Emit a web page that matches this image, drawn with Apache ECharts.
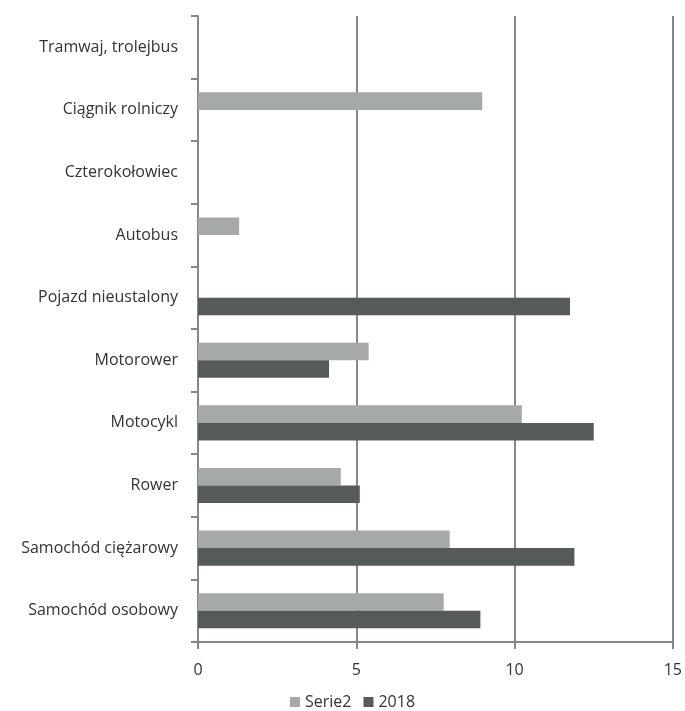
<!DOCTYPE html>
<html>
<head>
<meta charset="utf-8">
<script src="https://cdn.jsdelivr.net/npm/echarts@6/dist/echarts.min.js"></script>
<style>
  html, body { margin: 0; padding: 0; background: #fff; }
  #chart { width: 685px; height: 711px; }
</style>
</head>
<body>
<div id="chart"></div>
<script>
// kategorie od dołu do góry
var categories = ['Samochód osobowy', 'Samochód ciężarowy', 'Rower', 'Motocykl', 'Motorower',
                  'Pojazd nieustalony', 'Autobus', 'Czterokołowiec', 'Ciągnik rolniczy', 'Tramwaj, trolejbus'];
var serie2Values = [7.76, 7.95, 4.51, 10.23, 5.39, 0, 1.3, 0, 8.98, 0];
var values2018 = [8.92, 11.89, 5.11, 12.5, 4.14, 11.75, 0, 0, 0, 0];
var xTicks = [0, 5, 10, 15];

var axisGray = '#878787';
var fontName = 'Open Sans';

var option = {
  animation: false,
  grid: { left: 198, right: 10, top: 16, bottom: 69, containLabel: false },
  legend: {
    data: ['Serie2', '2018'],
    top: 694,
    left: 290,
    padding: 0,
    itemWidth: 10,
    itemHeight: 10,
    itemGap: 12,
    icon: 'rect',
    textStyle: { color: '#333', fontSize: 16, fontFamily: fontName }
  },
  xAxis: {
    type: 'value',
    min: xTicks[0],
    max: xTicks[xTicks.length - 1],
    interval: 5,
    axisLine: { show: true, lineStyle: { color: axisGray, width: 2 } },
    axisTick: { show: true, length: 7, lineStyle: { color: axisGray, width: 2 } },
    axisLabel: { color: '#333', fontSize: 16, fontFamily: fontName, margin: 20 },
    splitLine: { show: true, lineStyle: { color: axisGray, width: 2 } }
  },
  yAxis: {
    type: 'category',
    data: categories,
    axisLine: { show: true, lineStyle: { color: axisGray, width: 2 } },
    axisTick: { show: true, length: 7, lineStyle: { color: axisGray, width: 2 } },
    axisLabel: { color: '#333', fontSize: 16, fontFamily: fontName, margin: 20 },
    splitLine: { show: false }
  },
  series: [
    {
      name: 'Serie2',
      type: 'bar',
      data: serie2Values,
      barGap: '0%',
      barCategoryGap: '44%',
      itemStyle: { color: '#a6a9a9' }
    },
    {
      name: '2018',
      type: 'bar',
      data: values2018,
      itemStyle: { color: '#555a5b' }
    }
  ]
};

var myChart = echarts.init(document.getElementById('chart'));
myChart.setOption(option);
</script>
</body>
</html>
